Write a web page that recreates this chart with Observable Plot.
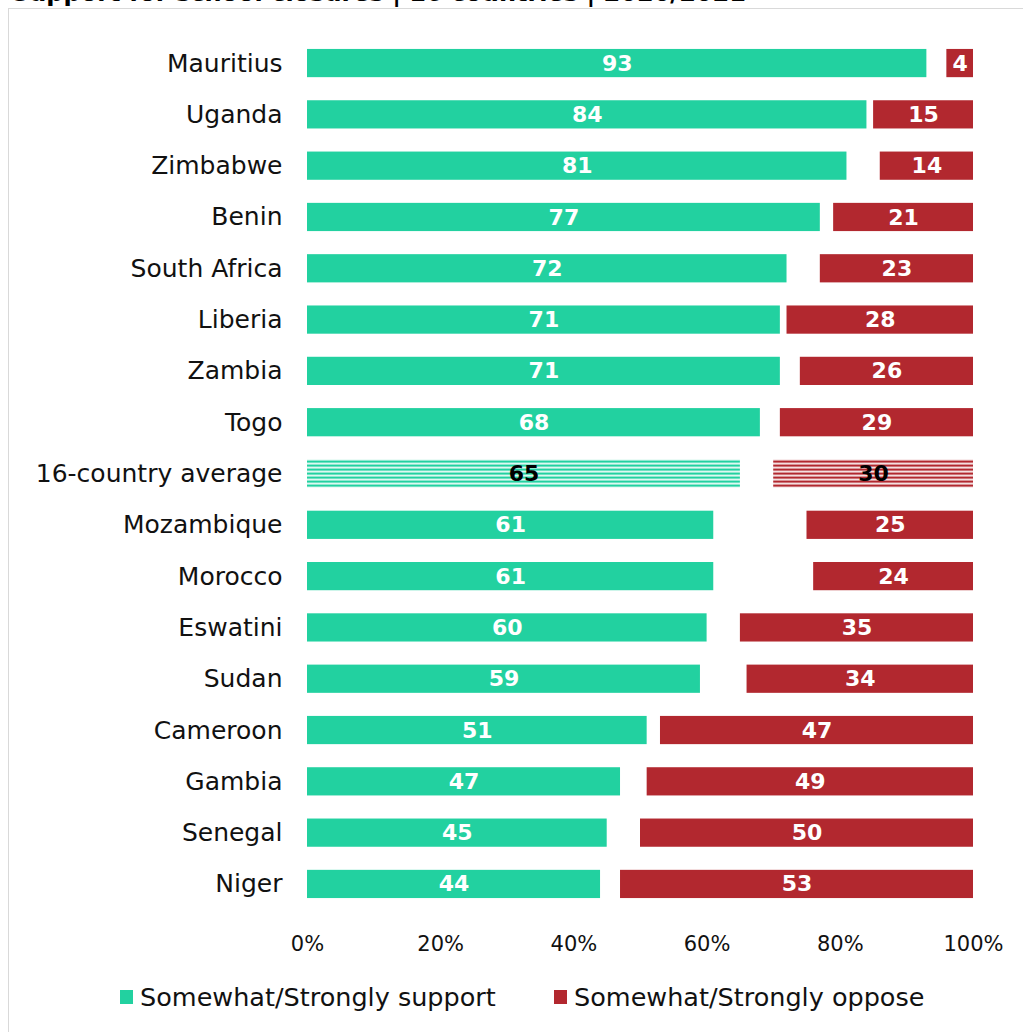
<!DOCTYPE html>
<html>
<head>
<meta charset="utf-8">
<script src="https://cdn.jsdelivr.net/npm/d3@7"></script>
<script src="https://cdn.jsdelivr.net/npm/@observablehq/plot@0.6"></script>
<style>
  html, body { margin: 0; padding: 0; background: #fff; overflow: hidden; }
  body { width: 1023px; height: 1032px; position: relative; font-family: "DejaVu Sans", sans-serif; color: #000; }
  #title { position: absolute; left: 12px; top: -21px; font-size: 24px; font-weight: bold; white-space: nowrap; }
  #panel { position: absolute; left: 8px; top: 8px; width: 1100px; height: 1100px; border: 1.5px solid #d9d9d9; box-sizing: border-box; }
  #chart { position: absolute; left: 0; top: 0; }
  #legend { position: absolute; left: 0; top: 982px; width: 1023px; font-size: 25.5px; color: #111; }
  .item { position: absolute; top: 0; display: flex; align-items: center; white-space: nowrap; }
  .sw { width: 13px; height: 14px; margin-right: 7px; }
</style>
</head>
<body>
<div id="title">Support for school closures | 16 countries | 2020/2021</div>
<div id="panel"></div>
<div id="chart"></div>
<div id="legend">
  <div class="item" style="left:120px"><span class="sw" style="background:#22d1a0"></span>Somewhat/Strongly support</div>
  <div class="item" style="left:554px"><span class="sw" style="background:#b2282f"></span>Somewhat/Strongly oppose</div>
</div>
<script>
const countries = ["Mauritius","Uganda","Zimbabwe","Benin","South Africa","Liberia","Zambia","Togo","16-country average","Mozambique","Morocco","Eswatini","Sudan","Cameroon","Gambia","Senegal","Niger"];
const support = [93,84,81,77,72,71,71,68,65,61,61,60,59,51,47,45,44];
const oppose  = [4,15,14,21,23,28,26,29,30,25,24,35,34,47,49,50,53];
const xTicks = [0,20,40,60,80,100];
const AVG = "16-country average";

const green = "#22d1a0", red = "#b2282f";
const rows = countries.map((c,i) => ({country: c, support: support[i], oppose: oppose[i], avg: c === AVG}));

function defs() {
  const ns = "http://www.w3.org/2000/svg";
  const d = document.createElementNS(ns, "defs");
  d.innerHTML = `
    <pattern id="hatchG" patternUnits="userSpaceOnUse" width="8" height="4" y="0.5">
      <rect width="8" height="2.3" fill="${green}"/></pattern>
    <pattern id="hatchR" patternUnits="userSpaceOnUse" width="8" height="4" y="0.5">
      <rect width="8" height="2.3" fill="${red}"/></pattern>`;
  return d;
}

const chart = Plot.plot({
  width: 1023,
  height: 960,
  marginLeft: 307,
  marginRight: 50,
  marginTop: 37.4,
  marginBottom: 50.4,
  style: {fontFamily: "DejaVu Sans, sans-serif", background: "transparent"},
  x: {domain: [0, 100]},
  y: {domain: countries, paddingInner: 0.45, paddingOuter: 0.225, round: false},
  marks: [
    defs,
    Plot.barX(rows, {y: "country", x1: 0, x2: "support", fill: d => d.avg ? "url(#hatchG)" : green}),
    Plot.barX(rows, {y: "country", x1: d => 100 - d.oppose, x2: 100, fill: d => d.avg ? "url(#hatchR)" : red}),
    Plot.ruleX([0], {y1: countries[0], y2: countries[countries.length-1], stroke: "#d9d9d9", strokeWidth: 1.5, insetTop: -26, insetBottom: -26}),
    Plot.text(rows, {y: "country", x: d => d.support / 2, text: d => String(d.support), fill: d => d.avg ? "#000" : "#fff", fontWeight: "bold", fontSize: 22}),
    Plot.text(rows, {y: "country", x: d => 100 - d.oppose / 2, text: d => String(d.oppose), fill: d => d.avg ? "#000" : "#fff", fontWeight: "bold", fontSize: 22}),
    Plot.axisY({tickSize: 0, tickPadding: 25, fontSize: 25, fill: "#111", label: null}),
    Plot.axisX({ticks: xTicks, tickSize: 0, tickPadding: 26, fontSize: 21, fill: "#111", tickFormat: d => d + "%", label: null})
  ]
});
document.getElementById("chart").appendChild(chart);
</script>
</body>
</html>
